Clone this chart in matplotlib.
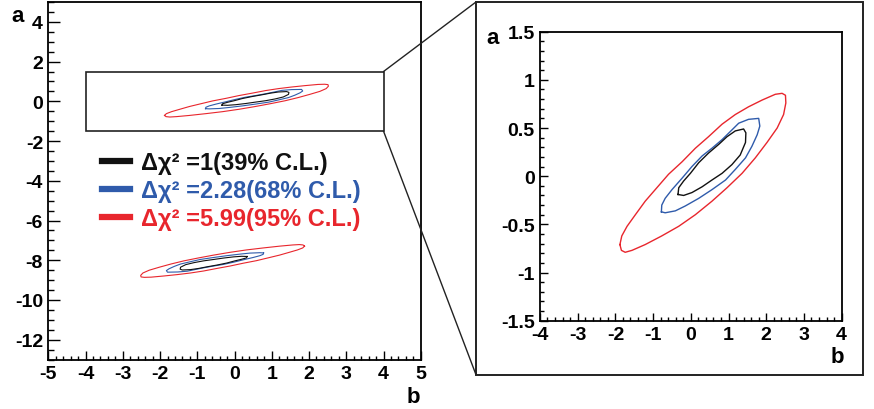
import matplotlib
matplotlib.use('Agg')
import matplotlib.pyplot as plt
import numpy as np
from matplotlib.lines import Line2D
from matplotlib.patches import Rectangle, ConnectionPatch
from matplotlib.ticker import MultipleLocator

plt.rcParams['font.family'] = ['Liberation Sans', 'DejaVu Sans']
plt.rcParams['font.weight'] = 'bold'
plt.rcParams['axes.unicode_minus'] = False

# contour levels and legend text
levels = ['1', '2.28', '5.99']
cl_text = ['39%', '68%', '95%']
colors = ['#111111', '#2f5bab', '#e8262d']

# upper solution (b, a)
up_black_b = [-0.34, -0.32, -0.19, -0.01, 0.21, 0.47, 0.74, 0.96, 1.18, 1.40, 1.46, 1.45, 1.31, 1.09, 0.83, 0.56, 0.30, 0.03, -0.19]
up_black_a = [-0.19, -0.12, -0.05, 0.03, 0.14, 0.24, 0.33, 0.41, 0.47, 0.49, 0.45, 0.35, 0.22, 0.12, 0.03, -0.04, -0.11, -0.17, -0.20]
up_blue_b = [-0.78, -0.77, -0.68, -0.50, -0.23, 0.03, 0.30, 0.56, 0.83, 1.09, 1.27, 1.53, 1.80, 1.83, 1.76, 1.62,
             1.45, 1.18, 0.92, 0.56, 0.21, -0.15, -0.41, -0.68]
up_blue_a = [-0.37, -0.30, -0.23, -0.14, -0.02, 0.10, 0.21, 0.29, 0.38, 0.48, 0.55, 0.59, 0.60, 0.52, 0.43, 0.31,
             0.19, 0.07, -0.04, -0.14, -0.23, -0.31, -0.36, -0.38]
up_red_b = [-1.88, -1.83, -1.69, -1.47, -1.21, -0.90, -0.59, -0.23, 0.12, 0.47, 0.83, 1.18, 1.53, 1.89, 2.24, 2.42,
            2.51, 2.52, 2.46, 2.29, 2.02, 1.71, 1.36, 0.96, 0.56, 0.12, -0.32, -0.77, -1.21, -1.56, -1.74, -1.84]
up_red_a = [-0.71, -0.62, -0.52, -0.40, -0.26, -0.12, 0.02, 0.15, 0.29, 0.41, 0.54, 0.64, 0.72, 0.79, 0.85, 0.86,
            0.84, 0.76, 0.64, 0.50, 0.35, 0.19, 0.03, -0.12, -0.26, -0.40, -0.52, -0.62, -0.71, -0.77, -0.79, -0.77]

# lower solution (b, a)
lo_black_b = [0.34, 0.32, 0.19, 0.01, -0.21, -0.47, -0.74, -0.96, -1.18, -1.40, -1.46, -1.45, -1.31, -1.09, -0.83, -0.56, -0.30, -0.03, 0.19]
lo_black_a = [-7.81, -7.88, -7.95, -8.03, -8.14, -8.24, -8.33, -8.41, -8.47, -8.49, -8.45, -8.35, -8.22, -8.12, -8.03, -7.96, -7.89, -7.83, -7.80]
lo_blue_b = [0.78, 0.77, 0.68, 0.50, 0.23, -0.03, -0.30, -0.56, -0.83, -1.09, -1.27, -1.53, -1.80, -1.83, -1.76, -1.62,
             -1.45, -1.18, -0.92, -0.56, -0.21, 0.15, 0.41, 0.68]
lo_blue_a = [-7.63, -7.70, -7.77, -7.86, -7.98, -8.10, -8.21, -8.29, -8.38, -8.48, -8.55, -8.59, -8.60, -8.52, -8.43, -8.31,
             -8.19, -8.07, -7.96, -7.86, -7.77, -7.69, -7.64, -7.62]
lo_red_b = [1.88, 1.83, 1.69, 1.47, 1.21, 0.90, 0.59, 0.23, -0.12, -0.47, -0.83, -1.18, -1.53, -1.89, -2.24, -2.42,
            -2.51, -2.52, -2.46, -2.29, -2.02, -1.71, -1.36, -0.96, -0.56, -0.12, 0.32, 0.77, 1.21, 1.56, 1.74, 1.84]
lo_red_a = [-7.29, -7.38, -7.48, -7.60, -7.74, -7.88, -8.02, -8.15, -8.29, -8.41, -8.54, -8.64, -8.72, -8.79, -8.85, -8.86,
            -8.84, -8.76, -8.64, -8.50, -8.35, -8.19, -8.03, -7.88, -7.74, -7.60, -7.48, -7.38, -7.29, -7.23, -7.21, -7.23]

# axis ranges and ticks
full_b = (-5, 5)
full_a = (-13, 5)
full_xticks = [-5, -4, -3, -2, -1, 0, 1, 2, 3, 4, 5]
full_yticks = [-12, -10, -8, -6, -4, -2, 0, 2, 4]
zoom_b = (-4, 4)
zoom_a = (-1.5, 1.5)
zoom_xticks = [-4, -3, -2, -1, 0, 1, 2, 3, 4]
zoom_yticks = [-1.5, -1, -0.5, 0, 0.5, 1, 1.5]
zoom_ylabels = ['-1.5', '-1', '-0.5', '0', '0.5', '1', '1.5']

upper = [(up_black_b, up_black_a), (up_blue_b, up_blue_a), (up_red_b, up_red_a)]
lower = [(lo_black_b, lo_black_a), (lo_blue_b, lo_blue_a), (lo_red_b, lo_red_a)]

fig = plt.figure(figsize=(8.74, 4.10), dpi=100)
ax1 = fig.add_axes([0.0553, 0.1205, 0.4261, 0.8722])
ax2 = fig.add_axes([0.6178, 0.2154, 0.3452, 0.7049])


def closed(v):
    v = np.asarray(v)
    return np.r_[v, v[:1]]


# red first, black on top
for i in [2, 1, 0]:
    for b, a in (upper[i], lower[i]):
        ax1.plot(closed(b), closed(a), color=colors[i], lw=0.8, solid_joinstyle='round')
    ax2.plot(closed(upper[i][0]), closed(upper[i][1]), color=colors[i], lw=1.0, solid_joinstyle='round')

ax1.set_xlim(*full_b)
ax1.set_ylim(*full_a)
ax1.set_xticks(full_xticks)
ax1.set_yticks(full_yticks)
ax1.xaxis.set_minor_locator(MultipleLocator(0.2))
ax1.yaxis.set_minor_locator(MultipleLocator(0.5))
ax1.tick_params(axis='x', which='major', length=6.5)
ax1.tick_params(axis='x', which='minor', length=3.2)
ax1.tick_params(axis='y', which='major', length=8.6)
ax1.tick_params(axis='y', which='minor', length=4.3)

ax2.set_xlim(*zoom_b)
ax2.set_ylim(*zoom_a)
ax2.set_xticks(zoom_xticks)
ax2.set_yticks(zoom_yticks)
ax2.set_yticklabels(zoom_ylabels)
ax2.xaxis.set_minor_locator(MultipleLocator(0.2))
ax2.yaxis.set_minor_locator(MultipleLocator(0.1))
ax2.tick_params(which='major', length=5.8)
ax2.tick_params(which='minor', length=2.9)

for ax in (ax1, ax2):
    ax.tick_params(which='both', direction='in', top=False, right=False,
                   width=1.0, labelsize=14, pad=3.8)
    for lab in ax.get_xticklabels() + ax.get_yticklabels():
        lab.set_fontweight('bold')
    for sp in ax.spines.values():
        sp.set_linewidth(1.3)

# axis titles, ROOT style
ax1.text(-0.083, 0.948, 'a', transform=ax1.transAxes, ha='center', va='baseline', fontsize=16)
ax1.text(0.979, -0.119, 'b', transform=ax1.transAxes, ha='center', va='baseline', fontsize=16)
ax2.text(-0.157, 0.962, 'a', transform=ax2.transAxes, ha='center', va='baseline', fontsize=16)
ax2.text(0.987, -0.144, 'b', transform=ax2.transAxes, ha='center', va='baseline', fontsize=16)

# zoom window on the full plot
ax1.add_patch(Rectangle((zoom_b[0], zoom_a[0]), zoom_b[1] - zoom_b[0], zoom_a[1] - zoom_a[0],
                        fill=False, lw=1.2, ec='#222222'))

# frame around the zoomed pad
pad_x0, pad_y0, pad_x1, pad_y1 = 0.5446, 0.0837, 0.9874, 0.9927
fig.add_artist(Rectangle((pad_x0, pad_y0), pad_x1 - pad_x0, pad_y1 - pad_y0,
                         transform=fig.transFigure, fill=False, lw=1.4, ec='#222222'))
fig.add_artist(ConnectionPatch(xyA=(zoom_b[1], zoom_a[1]), coordsA=ax1.transData,
                               xyB=(pad_x0, pad_y1), coordsB=fig.transFigure, lw=1.0, color='#222222'))
fig.add_artist(ConnectionPatch(xyA=(zoom_b[1], zoom_a[0]), coordsA=ax1.transData,
                               xyB=(pad_x0, pad_y0), coordsB=fig.transFigure, lw=1.0, color='#222222'))

handles = [Line2D([], [], color=c, lw=4.5) for c in colors]
labels = [f'Δχ² ={lv}({p} C.L.)' for lv, p in zip(levels, cl_text)]
leg = ax1.legend(handles, labels, loc='upper left', bbox_to_anchor=(0.143, 0.582),
                 frameon=False, borderpad=0, borderaxespad=0, fontsize=17,
                 handlelength=1.2, handletextpad=0.45, labelspacing=0.2)
for t, c in zip(leg.get_texts(), colors):
    t.set_color(c)

fig.savefig('out.png', dpi=100)
